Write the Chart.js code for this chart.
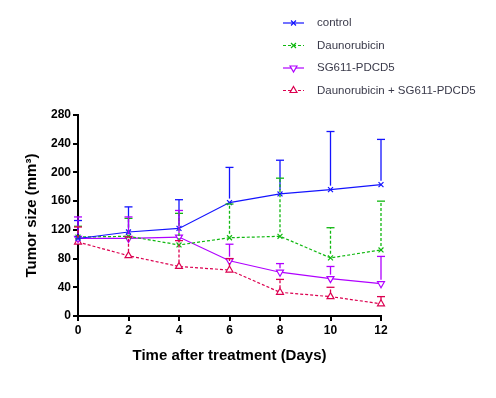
<!DOCTYPE html>
<html>
<head>
<meta charset="utf-8">
<script src="https://cdn.jsdelivr.net/npm/chart.js@4.4.1/dist/chart.umd.min.js"></script>
<style>
  html, body { margin: 0; padding: 0; background: #fff; }
  #wrap { width: 496px; height: 398px; position: relative; }
</style>
</head>
<body>
<div id="wrap"><canvas id="tumorChart"></canvas></div>
<script>
// Data
const days = [0, 2, 4, 6, 8, 10, 12];
const seriesNames = ['control', 'Daunorubicin', 'SG611-PDCD5', 'Daunorubicin + SG611-PDCD5'];

const controlMean = [108, 117, 122, 158, 170, 176, 183];
const controlErr = [25, 35, 40, 49, 47, 81, 63];
const daunoMean = [110, 111, 99, 109, 111, 81, 92];
const daunoErr = [15, 25, 44, 47, 81, 42, 68];
const sgMean = [108, 108, 110, 77, 61, 52, 45];
const sgErr = [30, 30, 37, 23, 12, 17, 38];
const comboMean = [103, 84, 69, 64, 33, 27, 17];
const comboErr = [21, 26, 36, 16, 18, 13, 10];

const yTicks = [0, 40, 80, 120, 160, 200, 240, 280];

const colors = ['#1414ff', '#10b810', '#b000ff', '#dc0050'];

function toPoints(mean) {
    return days.map((d, i) => ({ x: d, y: mean[i] }));
}

// Upward error bars (mean + error) drawn through the chart's scales
const errorBars = {
    id: 'errorBars',
    afterDatasetsDraw(chart) {
        const ctx = chart.ctx;
        const xs = chart.scales.x;
        const ys = chart.scales.y;
        chart.data.datasets.forEach((ds) => {
            ctx.save();
            ctx.strokeStyle = ds.borderColor;
            ctx.lineWidth = 1.3;
            ds.data.forEach((p, i) => {
                const px = xs.getPixelForValue(p.x);
                const py = ys.getPixelForValue(p.y);
                const top = ys.getPixelForValue(p.y + ds.errors[i]);
                ctx.setLineDash(ds.borderDash || []);
                ctx.beginPath();
                ctx.moveTo(px, py - 4);
                ctx.lineTo(px, top);
                ctx.stroke();
                ctx.setLineDash([]);
                ctx.beginPath();
                ctx.moveTo(px - 4, top);
                ctx.lineTo(px + 4, top);
                ctx.stroke();
            });
            ctx.restore();
        });
    }
};

// Vertical legend in the top-right corner
const sideLegend = {
    id: 'sideLegend',
    afterDraw(chart) {
        const ctx = chart.ctx;
        chart.data.datasets.forEach((ds, i) => {
            const y = 23 + i * 22.5;
            ctx.save();
            ctx.strokeStyle = ds.borderColor;
            ctx.lineWidth = 1.2;
            ctx.setLineDash(ds.borderDash || []);
            ctx.beginPath();
            ctx.moveTo(283, y);
            ctx.lineTo(304, y);
            ctx.stroke();
            ctx.setLineDash([]);
            ctx.fillStyle = '#ffffff';
            Chart.helpers.drawPoint(ctx, {
                pointStyle: ds.pointStyle,
                radius: ds.pointRadius,
                rotation: ds.pointRotation || 0,
                borderWidth: 1.2
            }, 293.5, y);
            ctx.fillStyle = '#3a3a4a';
            ctx.font = '11.5px "Liberation Sans", Arial, sans-serif';
            ctx.textBaseline = 'middle';
            ctx.fillText(ds.label, 317, y);
            ctx.restore();
        });
    }
};

function makeSet(i, mean, err, style, dash, rotation) {
    return {
        label: seriesNames[i],
        data: toPoints(mean),
        errors: err,
        borderColor: colors[i],
        backgroundColor: '#ffffff',
        pointBorderColor: colors[i],
        pointBackgroundColor: '#ffffff',
        borderWidth: 1.2,
        borderDash: dash,
        pointStyle: style,
        pointRadius: style === 'crossRot' ? 3.5 : 4,
        pointRotation: rotation,
        pointBorderWidth: 1.2,
        tension: 0,
        fill: false,
        clip: false
    };
}

const tickFont = { family: '"Liberation Sans", Arial, sans-serif', size: 12, weight: 'bold' };
const titleFont = { family: '"Liberation Sans", Arial, sans-serif', size: 15, weight: 'bold' };

new Chart(document.getElementById('tumorChart').getContext('2d'), {
    type: 'line',
    data: {
        datasets: [
            makeSet(0, controlMean, controlErr, 'crossRot', [], 0),
            makeSet(1, daunoMean, daunoErr, 'crossRot', [3, 2], 0),
            makeSet(2, sgMean, sgErr, 'triangle', [], 180),
            makeSet(3, comboMean, comboErr, 'triangle', [3, 2], 0)
        ]
    },
    options: {
        responsive: true,
        maintainAspectRatio: false,
        animation: false,
        layout: { padding: { left: 19, top: 115, right: 115, bottom: 29 } },
        plugins: {
            legend: { display: false },
            tooltip: { enabled: false }
        },
        scales: {
            x: {
                type: 'linear',
                min: 0,
                max: 12,
                afterFit: s => { s.height = 53; },
                ticks: { stepSize: 2, color: '#000', font: tickFont, padding: 2 },
                grid: { drawOnChartArea: false, drawTicks: true, tickLength: 5, color: '#000', lineWidth: 2 },
                border: { color: '#000', width: 2 },
                title: { display: true, text: 'Time after treatment (Days)', color: '#000', font: titleFont, padding: { top: 4 } }
            },
            y: {
                min: 0,
                max: 280,
                afterFit: s => { s.width = 59; },
                afterBuildTicks: s => { s.ticks = yTicks.map(v => ({ value: v })); },
                ticks: { color: '#000', font: tickFont, padding: 2 },
                grid: { drawOnChartArea: false, drawTicks: true, tickLength: 5, color: '#000', lineWidth: 2 },
                border: { color: '#000', width: 2 },
                title: { display: true, text: 'Tumor size (mm³)', color: '#000', font: titleFont, padding: { bottom: 4 } }
            }
        }
    },
    plugins: [errorBars, sideLegend]
});
</script>
</body>
</html>
